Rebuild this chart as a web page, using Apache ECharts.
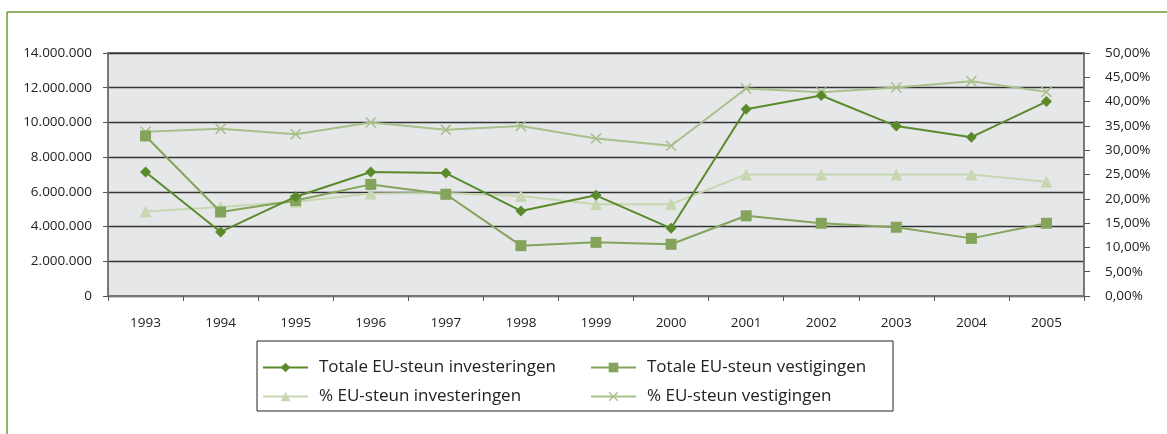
<!DOCTYPE html>
<html>
<head>
<meta charset="utf-8">
<script src="https://cdn.jsdelivr.net/npm/echarts@6/dist/echarts.min.js"></script>
<style>
  html, body { margin: 0; padding: 0; background: #fff; }
  #chart { width: 1167px; height: 434px; }
</style>
</head>
<body>
<div id="chart"></div>
<script>
// jaren
const years = ['1993','1994','1995','1996','1997','1998','1999','2000','2001','2002','2003','2004','2005'];
// bedragen (linker as)
const totaleInvesteringen = [7140000, 3690000, 5720000, 7140000, 7080000, 4900000, 5800000, 3900000, 10760000, 11550000, 9790000, 9150000, 11200000];
const totaleVestigingen = [9220000, 4840000, 5500000, 6430000, 5860000, 2900000, 3090000, 2980000, 4620000, 4190000, 3960000, 3320000, 4190000];
// percentages (rechter as)
const pctInvesteringen = [17.4, 18.3, 19.4, 21.1, 21.2, 20.6, 18.9, 18.9, 25.0, 25.0, 25.0, 25.0, 23.5];
const pctVestigingen = [33.8, 34.4, 33.3, 35.7, 34.2, 35.0, 32.4, 30.9, 42.7, 41.9, 42.9, 44.2, 42.0];

const names = ['Totale EU-steun investeringen', 'Totale EU-steun vestigingen', '% EU-steun investeringen', '% EU-steun vestigingen'];
const colors = ['#5b8a2b', '#83a45a', '#c6d7b1', '#a8c089'];
const kruis = 'path://M1,0L5,4L9,0L10,1L6,5L10,9L9,10L5,6L1,10L0,9L4,5L0,1Z';

const fontFam = '"Open Sans", "Noto Sans", sans-serif';

function fmtGetal(v) {
  return String(v).replace(/\B(?=(\d{3})+(?!\d))/g, '.');
}

const chart = echarts.init(document.getElementById('chart'));

const legendBase = {
  orient: 'vertical', top: 359, itemGap: 12, padding: 0,
  itemWidth: 45, itemHeight: 12,
  textStyle: { fontSize: 17, color: '#222', fontFamily: fontFam, padding: [0, 0, 0, 6] }
};

chart.setOption({
  animation: false,
  color: colors,
  textStyle: { fontFamily: fontFam },
  graphic: [
    // groene kader
    { type: 'line', shape: { x1: 7, y1: 12, x2: 1167, y2: 12 }, style: { stroke: '#6b9a33', lineWidth: 1.5 } },
    { type: 'line', shape: { x1: 7, y1: 12, x2: 7, y2: 434 }, style: { stroke: '#6b9a33', lineWidth: 1.5 } },
    // legenda kader
    { type: 'rect', shape: { x: 257, y: 341, width: 636, height: 70 }, style: { fill: 'none', stroke: '#222', lineWidth: 1 } }
  ],
  grid: {
    left: 108, right: 83, top: 53, bottom: 138,
    show: true, backgroundColor: '#e6e7e9', borderColor: '#7a7a7a', borderWidth: 2
  },
  legend: [
    Object.assign({ data: [names[0], names[2]], left: 262 }, legendBase),
    Object.assign({ data: [names[1], names[3]], left: 590 }, legendBase)
  ],
  xAxis: {
    type: 'category', data: years, boundaryGap: true,
    axisLine: { lineStyle: { color: '#777', width: 2 } },
    axisTick: { show: true, length: 5, lineStyle: { color: '#555' } },
    axisLabel: { margin: 20, fontSize: 13.5, color: '#222' },
    splitLine: { show: false }
  },
  yAxis: [
    {
      type: 'value', min: 0, max: 14000000, interval: 2000000,
      axisLine: { show: true, lineStyle: { color: '#777', width: 2 } },
      axisTick: { show: true, length: 5, lineStyle: { color: '#555' } },
      axisLabel: { margin: 16, fontSize: 13.5, color: '#222', formatter: fmtGetal },
      splitLine: { show: true, lineStyle: { color: '#333', width: 1.4 } }
    },
    {
      type: 'value', min: 0, max: 50, interval: 5, position: 'right',
      axisLine: { show: true, lineStyle: { color: '#777', width: 2 } },
      axisTick: { show: true, length: 6, inside: false, lineStyle: { color: '#555' } },
      axisLabel: { margin: 21, fontSize: 13.5, color: '#222', formatter: v => v.toFixed(2).replace('.', ',') + '%' },
      splitLine: { show: false }
    }
  ],
  series: [
    {
      name: names[0], type: 'line', yAxisIndex: 0, data: totaleInvesteringen,
      symbol: 'diamond', symbolSize: 11, lineStyle: { width: 2, color: colors[0] },
      itemStyle: { color: colors[0] }, z: 5
    },
    {
      name: names[1], type: 'line', yAxisIndex: 0, data: totaleVestigingen,
      symbol: 'rect', symbolSize: 11, lineStyle: { width: 2, color: colors[1] },
      itemStyle: { color: colors[1] }, z: 4
    },
    {
      name: names[2], type: 'line', yAxisIndex: 1, data: pctInvesteringen,
      symbol: 'triangle', symbolSize: 12, lineStyle: { width: 2, color: colors[2] },
      itemStyle: { color: colors[2] }, z: 3
    },
    {
      name: names[3], type: 'line', yAxisIndex: 1, data: pctVestigingen,
      symbol: kruis, symbolSize: 11, lineStyle: { width: 2, color: colors[3] },
      itemStyle: { color: colors[3] }, z: 3
    }
  ]
});
</script>
</body>
</html>
